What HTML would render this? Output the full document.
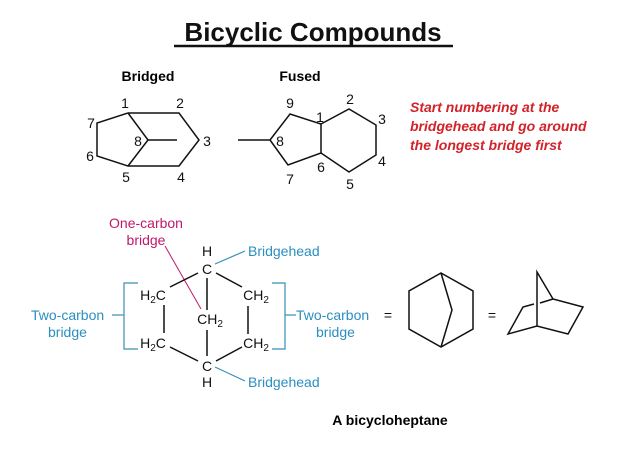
<!DOCTYPE html>
<html><head><style>body{margin:0;background:#fff}svg{display:block}text{font-family:"Liberation Sans",sans-serif}</style></head><body>
<svg width="640" height="462" viewBox="0 0 640 462" xmlns="http://www.w3.org/2000/svg">
<text x="313" y="41" font-size="26" font-weight="bold" text-anchor="middle" fill="#111">Bicyclic Compounds</text>
<line x1="174" y1="46" x2="453" y2="46" stroke="#111" stroke-width="2.5"/>
<text x="148" y="81" font-size="14" font-weight="bold" text-anchor="middle">Bridged</text>
<text x="300" y="81" font-size="14" font-weight="bold" text-anchor="middle">Fused</text>
<g stroke="#111" stroke-width="1.5" fill="none">
<polyline points="128,113 179,113 199,140 179,166 128,166 97,156 97,123 128,113"/>
<polyline points="128,113 148,140 128,166"/><line x1="148" y1="140" x2="177" y2="140"/>
<line x1="238" y1="140" x2="270" y2="140"/>
<polyline points="270,140 290,114 321,124 321,153 288,165 270,140"/>
<polyline points="321,124 349,109 376,125 376,155 349,172 321,153"/>
</g>
<g font-size="14" fill="#111" text-anchor="middle">
<text x="125" y="108">1</text><text x="180" y="108">2</text><text x="207" y="146">3</text><text x="181" y="182">4</text><text x="126" y="182">5</text><text x="90" y="161">6</text><text x="91" y="128">7</text><text x="138" y="146">8</text>
<text x="320" y="122">1</text><text x="350" y="104">2</text><text x="382" y="124">3</text><text x="382" y="166">4</text><text x="350" y="189">5</text><text x="321" y="172">6</text><text x="290" y="184">7</text><text x="280" y="146">8</text><text x="290" y="108">9</text>
</g>
<g font-size="14" font-weight="bold" font-style="italic" fill="#d2222a">
<text x="410" y="112">Start numbering at the</text><text x="410" y="131">bridgehead and go around</text><text x="410" y="150">the longest bridge first</text>
</g>
<text x="146" y="228" font-size="14" fill="#c0186a" text-anchor="middle">One-carbon</text>
<text x="146" y="245" font-size="14" fill="#c0186a" text-anchor="middle">bridge</text>
<line x1="165" y1="246" x2="201" y2="309" stroke="#c0186a" stroke-width="1"/>
<g stroke="#111" stroke-width="1.5">
<line x1="198" y1="273" x2="170" y2="287"/><line x1="216" y1="273" x2="242" y2="287"/>
<line x1="164" y1="305" x2="164" y2="333"/><line x1="248" y1="306" x2="248" y2="334"/>
<line x1="170" y1="347" x2="198" y2="361"/><line x1="242" y1="347" x2="216" y2="361"/>
<line x1="207" y1="278" x2="207" y2="310"/><line x1="207" y1="330" x2="207" y2="356"/>
</g>
<g font-size="14" fill="#111" text-anchor="middle">
<text x="207" y="256">H</text><text x="207" y="274">C</text><text x="207" y="371">C</text><text x="207" y="387">H</text>
<text x="153" y="300">H<tspan font-size="10" dy="3">2</tspan><tspan dy="-3">C</tspan></text>
<text x="153" y="348">H<tspan font-size="10" dy="3">2</tspan><tspan dy="-3">C</tspan></text>
<text x="256" y="300">CH<tspan font-size="10" dy="3">2</tspan></text>
<text x="256" y="348">CH<tspan font-size="10" dy="3">2</tspan></text>
<text x="210" y="324">CH<tspan font-size="10" dy="3">2</tspan></text>
</g>
<g stroke="#3a8fb5" stroke-width="1.2" fill="none">
<polyline points="138,283 124,283 124,349 138,349"/><polyline points="272,283 285,283 285,349 272,349"/>
<line x1="112" y1="315" x2="124" y2="315"/><line x1="285" y1="315" x2="296" y2="315"/>
<line x1="215" y1="264" x2="245" y2="251"/><line x1="215" y1="367" x2="245" y2="381"/>
</g>
<g font-size="14" fill="#2b8fc0">
<text x="31" y="320">Two-carbon</text><text x="48" y="337">bridge</text>
<text x="296" y="320">Two-carbon</text><text x="316" y="337">bridge</text>
<text x="248" y="256">Bridgehead</text><text x="248" y="387">Bridgehead</text>
</g>
<text x="388" y="320" font-size="14" fill="#111" text-anchor="middle">=</text>
<text x="492" y="320" font-size="14" fill="#111" text-anchor="middle">=</text>
<g stroke="#111" stroke-width="1.5" fill="none">
<polygon points="441,273 473,291 473,329 441,347 409,329 409,291"/>
<polyline points="441,273 452,310 441,347"/>
<polyline points="537,326 537,272 553,299 583,307 568,334 537,326 508,334 523,307 534,304"/>
<line x1="540" y1="303" x2="553" y2="299"/>
</g>
<text x="390" y="425" font-size="14" font-weight="bold" text-anchor="middle">A bicycloheptane</text>
</svg>
</body></html>
